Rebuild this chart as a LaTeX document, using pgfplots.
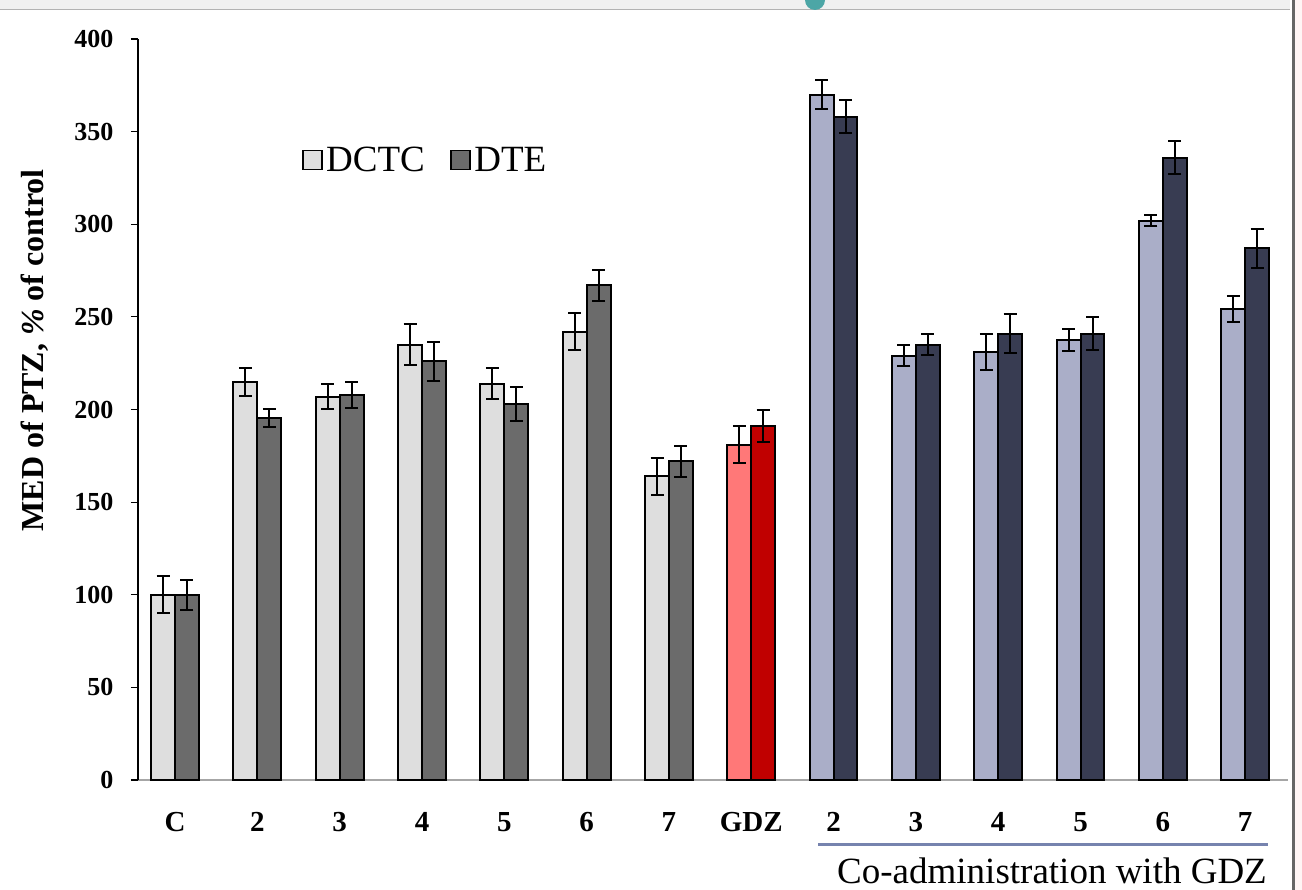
\documentclass[border=0pt]{standalone}
\usepackage{fontspec}
\setmainfont{Liberation Serif}
\usepackage{pgfplots}
\usepackage{pgfplotstable}
\pgfplotsset{compat=1.18}
\definecolor{lg}{HTML}{DEDEDE}
\definecolor{dg}{HTML}{6B6B6B}
\definecolor{pk}{HTML}{FF7878}
\definecolor{rd}{HTML}{C00000}
\definecolor{lb}{HTML}{AAAEC8}
\definecolor{nv}{HTML}{383C52}
\definecolor{br}{HTML}{7683AE}
\pgfplotstableread{
x a ae b be
0 100 10 100 8
1 215 7.5 195.5 5
2 207 6.5 208 7
3 235 11 226 10.5
4 214 8.5 203 9
5 242 10 267 8.5
6 164 10 172 8.5
}\grp
\pgfplotstableread{
x a ae b be
7 181 10 191 8.5
}\gdz
\pgfplotstableread{
x a ae b be
8 370 8 358 9
9 229 5.7 235 5.7
10 231 9.7 241 10.3
11 237.5 5.7 241 9
12 302 3 336 9
13 254 7 287 10.5
}\co
\pgfplotsset{
  errstyle/.style={error bars/.cd, y dir=both, y explicit,
    error bar style={line width=2pt, black},
    error mark options={rotate=90, mark size=6.5pt, line width=2pt, black}},
  barA/.style={ybar, bar width=0.29, bar shift=0pt, fill=#1, draw=black, line width=2pt}
}
\begin{document}
\begin{tikzpicture}[x=1pt,y=1pt]
\path[use as bounding box] (0,0) rectangle (1302,890);
% slide decoration
\fill[gray!12] (0,880) rectangle (1290,890);
\draw[gray!60, line width=1.5pt] (0,880.5) -- (1290,880.5);
\fill[teal!70] (815,890) circle (10);
\fill[red!4] (1294,0) rectangle (1302,890);
\draw[gray!80!black, line width=3pt] (1293,0) -- (1293,890);
\begin{axis}[
  at={(138pt,110pt)}, anchor=south west,
  width=1150pt, height=741pt, scale only axis,
  xmin=-0.45, xmax=13.52, ymin=0, ymax=400,
  axis x line=bottom, axis y line=left,
  axis line style={-},
  x axis line style={draw=gray!70, line width=2pt},
  y axis line style={draw=black, line width=1.5pt},
  ytick={0,50,...,400},
  xtick={0,...,13},
  xticklabels={C,2,3,4,5,6,7,GDZ,2,3,4,5,6,7},
  x tick style={draw=none},
  y tick style={black, line width=1.2pt},
  tick align=outside, major tick length=7pt,
  /pgf/number format/assume math mode=true,
  yticklabel style={font=\fontsize{26}{28}\selectfont\bfseries, xshift=-14pt},
  xticklabel style={font=\fontsize{29}{31}\selectfont\bfseries, yshift=-22pt},
  ylabel={MED of PTZ, \textit{\%} of control},
  every axis y label/.style={at={(axis description cs:-0.0896,0.58)}, rotate=90, anchor=center,
    font=\fontsize{32}{34}\selectfont\bfseries},
  clip=false,
  legend style={at={(axis description cs:0.14,0.837)}, anchor=west, draw=none, fill=none,
    font=\fontsize{37}{40}\selectfont, legend columns=2,
    /tikz/every even column/.append style={column sep=22pt},
    nodes={inner sep=3.5pt}},
  legend cell align=left,
]
\addplot[barA=lg,
  legend image code/.code={\draw[fill=lg,draw=black,line width=1.5pt] (0pt,-9.5pt) rectangle (19pt,9.5pt);},
  errstyle] table[x expr=\thisrow{x}-0.145, y=a, y error=ae] {\grp};
\addlegendentry{DCTC}
\addplot[barA=dg,
  legend image code/.code={\draw[fill=dg,draw=black,line width=1.5pt] (0pt,-9.5pt) rectangle (19pt,9.5pt);},
  errstyle] table[x expr=\thisrow{x}+0.145, y=b, y error=be] {\grp};
\addlegendentry{DTE}
\addplot[forget plot, barA=pk, errstyle] table[x expr=\thisrow{x}-0.145, y=a, y error=ae] {\gdz};
\addplot[forget plot, barA=rd, errstyle] table[x expr=\thisrow{x}+0.145, y=b, y error=be] {\gdz};
\addplot[forget plot, barA=lb, errstyle] table[x expr=\thisrow{x}-0.145, y=a, y error=ae] {\co};
\addplot[forget plot, barA=nv, errstyle] table[x expr=\thisrow{x}+0.145, y=b, y error=be] {\co};
\end{axis}
\draw[br, line width=3pt] (818,45) -- (1268,45);
\node[anchor=base, font=\fontsize{37}{40}\selectfont, inner sep=0pt] at (1052,6) {Co-administration with GDZ};
\end{tikzpicture}
\end{document}
